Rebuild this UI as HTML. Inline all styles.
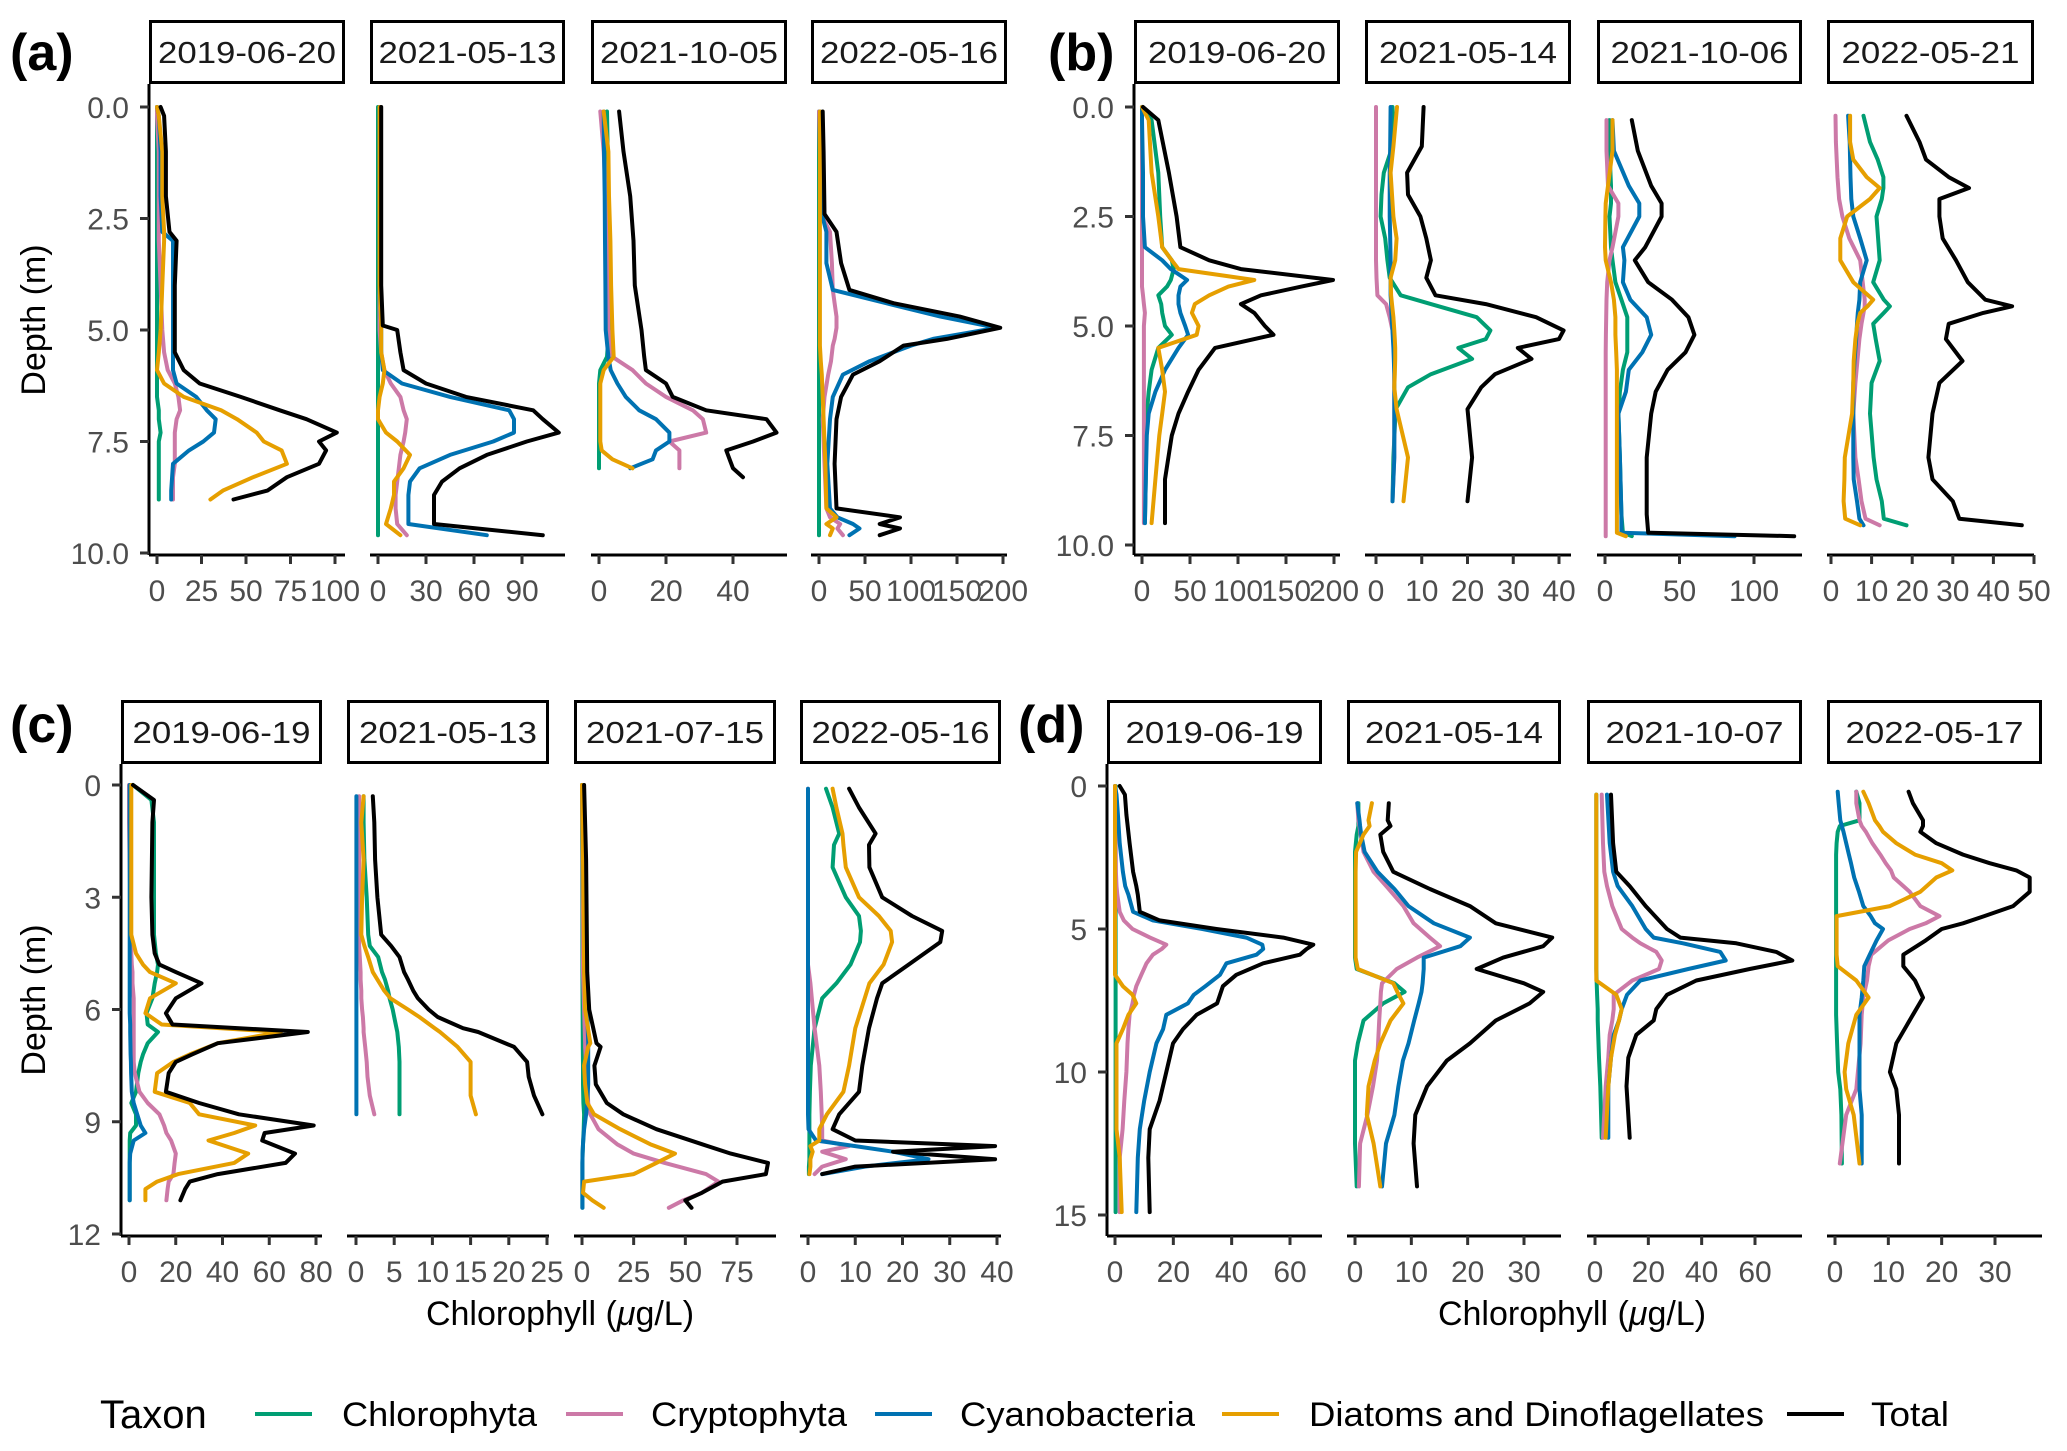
<!DOCTYPE html>
<html><head><meta charset="utf-8"><style>
html,body{margin:0;padding:0;background:#fff;}
svg{display:block;font-family:"Liberation Sans",sans-serif;}
</style></head><body>
<svg id="chart" width="2067" height="1451" viewBox="0 0 2067 1451"></svg>
<script>
// ---------- DATA ----------
const a1Depth=[0,0.2,1,2,2.8,3,4,5,5.5,5.9,6.2,6.5,6.8,7.0,7.3,7.5,7.7,8.0,8.3,8.6,8.8];
const a1Chloro=[0,0,0,0,0,0,0,0,0,0,0,0,1,1,2,1,1,1,1,1,1];
const a1Crypto=[0,0,1,1,1,1,2,3,4,6,10,12,13,11,10,10,10,10,9,9,9];
const a1Cyano=[0,1,2,2,3,9,9,9,9,9,11,22,28,33,32,26,18,9,8.5,8,8];
const a1Diatom=[0,1,3,3,4,4,3,2,1,0,4,15,36,45,56,60,70,73,54,37,30];
const a1Total=[2,4,5,5,7,11,10,10,10,15,24,47,69,84,101,91,95,91,73,62,43];

const a2Depth=[0,1,2,3,4,4.9,5.0,5.5,5.9,6.2,6.5,6.8,7.0,7.3,7.5,7.8,8.1,8.4,8.7,9.0,9.35,9.6];
const a2Chloro=[0,0,0,0,0,0,0,0,0,0,0,0,0,0,0,0,0,0,0,0,0,0];
const a2Crypto=[1,1,1,1,1,1,1,2,4,8,14,16,18,17,16,14,13,12,11,11,12,18];
const a2Cyano=[1,1,1,1,1,2,2,2,3,15,45,82,85,85,72,45,26,20,19,19,19,68];
const a2Diatom=[1,1,1,1,1,2,2,2,4,3,1,0,0,5,12,20,16,10,10,8,5,14];
const a2Total=[2,2,2,2,2,3,12,14,16,30,55,97,103,113,93,68,51,40,35,35,35,103];

const a3Depth=[0.1,1,2,3,4,5,5.6,5.9,6.2,6.5,6.8,7.0,7.3,7.5,7.7,7.9,8.1,8.3];
const a3Chloro=[2.4,2.6,2.8,3.2,3.2,3,2.4,0.4,0,0,0,0,0,0,0,0,0,null];
const a3Crypto=[0.4,1.4,2,2.4,2.6,2.8,4,10,14,20,28,31,32,21,24,24,24,null];
const a3Cyano=[1.4,1.5,1.7,1.8,1.9,2,2.8,3.5,5.5,8,12,17,21,21,17,16,9.3,null];
const a3Diatom=[1.4,2.8,3,3.4,3.6,4,4.4,1.4,0.4,0.4,0.4,0.4,0.4,0.4,0.8,4,10,null];
const a3Total=[6,7.3,9.3,10.3,10.7,12.7,13.5,14,20,22,32,50,53,46,38,39,40,43];

const a4Depth=[0.1,1,2.4,2.8,3.5,4.1,4.4,4.7,4.95,5.2,5.35,5.7,6.0,6.5,7,8,9.0,9.2,9.35,9.45,9.6];
const a4Chloro=[0,0,0,0,0,0,0,0,0,0,0,0,0,0,0,0,0,0,0,0,0];
const a4Crypto=[0,1,2,12,14,15,17,19,19,17,15,13,10,6,4,6,8,12,23,20,26];
const a4Cyano=[1,1,3,8,8,15,73,132,193,124,100,55,26,15,12,9,12,20,37,44,33];
const a4Diatom=[1,1,1,1,1,1,1,1,1,1,1,2,3,4,5,7,8,19,8,15,12];
const a4Total=[4,5,6,19,24,33,81,153,197,139,92,66,37,24,19,17,19,88,66,88,66];

const b1Depth=[0,0.3,1.5,2.5,3.2,3.5,3.7,3.95,4.1,4.3,4.5,4.7,5.0,5.2,5.5,6.0,6.5,7.0,7.5,8.5,9.5];
const b1Chloro=[0,10,17,19,21,31,33,30,26,17,20,21,24,31,17,10,7,5,4,4,3];
const b1Crypto=[0,0,0,0,0,0,0,0,0,1,2,3,2,2,2,2,2,2,2,2,2];
const b1Cyano=[0,0,1,1,3,21,30,47,40,38,38,40,45,48,38,24,14,7,5,4,3];
const b1Diatom=[0,7,10,17,21,31,38,117,90,70,55,52,59,57,17,21,24,21,18,14,10];
const b1Total=[1,17,28,36,40,70,103,199,166,124,103,117,128,137,76,59,48,38,31,24,24];

const b2Depth=[0,0.9,1.5,2,2.5,3,3.5,3.9,4.3,4.5,4.8,5.1,5.3,5.5,5.75,6.1,6.4,6.9,8,9];
const b2Chloro=[3.6,3.6,1.7,1.2,1,2,2.5,3,5.4,12,22,25,24,18,21,12,7,4.3,3.8,3.6];
const b2Crypto=[0,0,0,0,0,0,0,0.1,0.3,2.2,3,3.6,3.8,3.9,4,4,4,4,4,3.6];
const b2Cyano=[3.2,3.1,3,3,3,3.1,3.2,3.2,3.2,3.3,3.4,3.6,3.7,3.8,3.9,4,4,4,4,3.6];
const b2Diatom=[4.6,3.8,3.2,3.5,3.8,4.5,4.2,3.2,3.3,3.5,3.8,4,4.1,4.2,4.2,4.1,4,4.5,7,6];
const b2Total=[10.4,10,6.8,7,9.7,11,12,11,13,24,35,41,40,31,34,26,23,20,21,20];

const b3Depth=[0.3,1,1.8,2.2,2.5,3.2,3.5,4.0,4.4,4.8,5.2,5.6,6.0,6.5,7.0,8,9.3,9.72,9.8];
const b3Chloro=[3,3,4,4,3,4,5,7,11,15,15,15,12,10,9,10,11,12,18];
const b3Crypto=[1,1,2,9,9,5,3,1.5,1,0.8,0.6,0.5,0.5,0.5,0.5,0.5,0.5,0.5,0.5];
const b3Cyano=[5,6,16,23,23,12,13,12,17,28,31,25,16,14,9,10,11,11,87];
const b3Diatom=[5,5,2,0.5,0.3,0,0.5,4,6,7,7,7.5,8,8,8,8,8,8,14];
const b3Total=[18,22,31,38,38,27,20,29,45,56,60,54,42,34,31,28,28,29,127];

const b4Depth=[0.2,0.8,1.2,1.6,1.85,2.1,2.5,3,3.5,4.0,4.4,4.55,4.7,4.95,5.3,5.8,6.3,7.0,8,8.5,9,9.4,9.55];
const b4Chloro=[8,9.6,11.5,12.9,12.9,12.5,11.2,11.6,12,10.4,13,14.5,13,10.4,11,12,10,9.6,10.5,11.2,12.5,13,18.6];
const b4Crypto=[1.1,1.2,1.4,1.6,1.8,2,2.8,4.5,7.2,7.8,8.3,8.3,8,7.5,7,6.5,6,5.5,6,6.8,7.5,8.5,12];
const b4Cyano=[4.2,4.6,4.7,4.8,4.9,5,5.5,7.2,8.8,7.2,7,6.8,6.6,6.4,6.2,5.8,5.5,5.5,5.5,5.6,6.4,7,8];
const b4Diatom=[4.7,4.7,5.5,8.8,12,9.6,4,2.3,2.3,5.5,10.4,9,7.2,6.5,6,5.6,5.5,5.2,3.4,3.3,3.1,3.5,7.2];
const b4Total=[18.6,21.8,23.4,29,34,26.7,26.7,27.5,30.8,33.7,38,44.6,37.5,29,28.3,32.4,26.7,25,24,25,30,31.6,47];

const c1Depth=[0,0.4,1,3,4,4.5,4.8,5.0,5.3,5.7,6.1,6.4,6.6,6.9,7.2,7.4,7.7,8.2,8.5,8.8,9.1,9.3,9.5,9.85,10.1,10.4,10.6,10.8,11.1];
const c1Chloro=[1.7,9.6,10.7,10.7,10.7,11.5,12.4,12,11,10,7.5,8,12.4,8,6,5,4,3,1,3,3,0.5,0.3,0.3,0.3,0.3,0.3,0.3,0.3];
const c1Crypto=[0,0,0,0.5,0.8,1,1.2,1.5,1.5,2,2,2,2,2,2,2,2.5,4.5,8,13,15,16,18,20,19.5,19,17,16.5,16];
const c1Cyano=[0.3,0.3,0.3,0.3,0.3,0.3,0.3,0.3,0.3,0.3,0.3,0.5,0.5,0.6,0.7,0.8,0.9,1.2,2,3.5,5,7,2,0.5,0.3,0.3,0.3,0.3,0.3];
const c1Diatom=[1,1,1,1,1,3,6,9,20,9,7,14,65,38,26,19,12,11,26,30,54,45,34,51,45,21,12,7,7];
const c1Total=[1.7,10.7,10,9.6,10,11,13,20,31,20,15.8,18.6,76.5,38,27,20,17,15.8,30,47,79,58,57,71,67,38,26,24,22];

const c2Depth=[0.3,1,2,3,4,4.3,4.6,5.0,5.2,5.5,5.7,6.0,6.2,6.5,6.6,7.0,7.4,7.8,8.3,8.8];
const c2Chloro=[1,1,1.1,1.4,1.6,1.8,2.9,3.4,3.8,4.2,4.4,4.8,5,5.3,5.4,5.6,5.7,5.7,5.7,5.7];
const c2Crypto=[0.4,0.4,0.4,0.4,0.4,0.4,0.5,0.6,0.6,0.7,0.7,0.8,0.9,1,1,1.2,1.4,1.5,1.8,2.4];
const c2Cyano=[0.05,0.05,0.05,0.05,0.05,0.05,0.05,0.05,0.05,0.05,0.05,0.05,0.05,0.05,0.05,0.05,0.05,0.05,0.05,0.05];
const c2Diatom=[1,0.7,1,0.8,0.7,1.1,1.6,2.2,2.8,3.7,4.5,6.8,8.3,10.3,11,13.3,15,15,15,15.7];
const c2Total=[2.2,2.4,2.5,2.8,3.3,4.6,5.7,6.3,6.8,7.5,8.1,9.5,10.7,14,16,20.7,22.4,22.6,23.3,24.4];

const c3Depth=[0,2,5,6,6.9,7.0,7.5,8.0,8.5,8.8,9.2,9.6,9.85,10.1,10.4,10.6,10.9,11.1,11.3];
const c3Chloro=[0,0.1,0.2,0.3,0.4,0.4,0.5,0.5,0.7,1,0.8,0.5,0.3,0.2,0.2,0.2,0.2,0.2,0.2];
const c3Crypto=[0,0.3,0.5,1,1.5,1.5,2,2.6,3,4,8,17,25,40,60,66,58,49,42];
const c3Cyano=[0,0.5,1,2.5,3,3,3,3,2.5,2,1,0.5,0.3,0.2,0.2,0.2,0.2,0.2,0.2];
const c3Diatom=[0,0.5,1,1.5,4,3,1,1.5,2.6,5.8,18.5,33,45,36,25,1,0.5,5,10.5];
const c3Total=[1,2,2.5,3.5,7,9,6,6.7,12,20,36,58,72,90,89,68,58,50,53];

const c4Depth=[0.1,0.6,1.3,1.6,2.2,3.0,3.5,3.9,4.2,4.8,5.3,5.7,6.5,7.5,8.2,8.8,9.2,9.5,9.65,9.8,10.0,10.2,10.4];
const c4Chloro=[3.8,5.2,6.6,5.5,5.2,8,10.8,11.2,11,9,6,3,1.4,0.6,0.4,0.3,0.3,0.3,0.3,0.3,0.3,0.2,0.2];
const c4Crypto=[0,0,0,0,0,0,0,0,0,0,0.5,0.8,1.4,2.4,2.7,2.9,3,3,8.7,3,8,3,1.4];
const c4Cyano=[0,0,0,0,0,0,0,0,0,0,0,0,0,0,0,0,0.1,1.7,10,18,25.5,12,3];
const c4Diatom=[5.2,6,7.3,7.5,8,10.8,15,17.5,17.8,16,13,12,10,8.7,7.5,4,2.4,2.4,0.5,1,0.5,0.5,0.3];
const c4Total=[8.7,10.8,14.3,12.9,13,15.7,22,28.4,28,21.3,15.7,14.6,12.9,11.5,10.8,6.6,5.2,10,39.6,18,39.6,10,3];

const d1Depth=[0,0.3,1,2,3,3.5,3.8,4.4,4.7,5.0,5.3,5.55,5.7,5.9,6.2,6.6,7.0,7.3,7.6,8.0,8.5,9,10,11,12,13,14.9];
const d1Chloro=[0.2,0.2,0.2,0.2,0.2,0.2,0.2,0.2,0.2,0.2,0.2,0.2,0.2,0.2,0.2,0.2,0.2,0.2,0.2,0.2,0.2,0.2,0.2,0.2,0.2,0.2,0.2];
const d1Crypto=[0,0,0,0.2,0.3,0.5,0.8,1.6,3,6,12,17.6,16,13,10.8,9,7.3,6.5,6,5,4.6,4.3,3.9,3.2,2.6,1.6,1.6];
const d1Cyano=[0,0.5,1,1.6,2.7,3.5,4.6,6.2,13,30,45,50.5,50.8,48.5,38.2,36,31,27,25,17.6,16.5,14.2,11.9,10,8.5,7.8,7.3];
const d1Diatom=[0,0,0,0,0,0,0,0,0,0,0,0,0,0,0,0,2.7,6,7.3,4.6,2.7,0.5,0.5,0.5,0.5,1.6,2.3];
const d1Total=[1.6,3.4,3.9,5,6.2,7.3,7.8,8.5,15.3,34.8,57.7,68,65.7,63.4,50.8,41.6,37,36,35,28,23.3,19.9,17.6,15.3,11.9,11.4,11.9];

const d2Depth=[0.6,1.2,1.4,1.7,2.3,3.0,3.6,4.2,4.8,5.3,5.6,6.0,6.4,6.9,7.2,7.6,8.2,9.0,9.6,10.5,11.5,12.5,14];
const d2Chloro=[0.6,0.6,0.6,0.3,0,0,0,0,0,0,0,0,0.3,7,8.8,5,1.5,0.5,0,0,0,0,0.3];
const d2Crypto=[0.4,0.6,0.8,1,1.5,3.3,6,8.6,10.4,13.3,15.1,11,7.4,4.8,4.6,4.5,4.3,4.1,3.9,3.2,2.2,0.9,0.7];
const d2Cyano=[0.4,0.8,0.9,1.1,1.7,4,7,9.5,14,20.4,18.7,12.2,12.2,12,11.8,11.3,10.5,9.5,8.5,7.7,7,5.5,4.8];
const d2Diatom=[3,2.4,2.6,1.5,0.2,0.1,0.1,0.1,0.1,0.1,0.1,0.1,0.5,6.8,7.5,8.6,6.3,4.5,3.5,2.4,2.1,3.3,4.5];
const d2Total=[6,5.8,6.3,4.5,5,6.8,13.3,20.4,25,35,33.4,26.3,21.6,30,33.4,31,25,20.4,16.3,12.8,10.7,10.4,11];

const d3Depth=[0.3,2,3,3.5,4.2,5,5.3,5.5,5.8,6.1,6.4,6.8,7.3,7.8,8.2,8.7,9.5,10.5,12.3];
const d3Chloro=[0.5,0.5,0.5,0.5,0.5,0.5,0.5,0.5,0.5,0.5,0.5,0.6,0.8,1,1,1.2,1.5,2,2.5];
const d3Crypto=[2.5,3,3.5,4.5,6.5,10,14,17,23,25,24,14,7,7,6.5,5.5,5,4,3];
const d3Cyano=[4.5,5.5,6.8,8.5,14,19,22,33,47,49,35,17,12,10,9,7,6,5,5];
const d3Diatom=[0.5,0.5,0.5,0.5,0.5,0.5,0.5,0.5,0.5,0.5,0.5,0.5,8,10,9,7.5,6,5,4];
const d3Total=[6,6.8,8,13,19,27,32,53,68,74,58,38,27,23,22,15.5,12.5,11.8,13];

const d4Depth=[0.2,0.6,1.2,1.4,1.6,2.0,2.4,2.7,2.95,3.2,3.7,4.2,4.55,4.8,5.0,5.4,5.9,6.3,6.8,7.4,8.0,9,10,10.6,11.5,13.2];
const d4Chloro=[4,4.6,4.6,0.9,0.5,0.3,0.2,0.2,0.2,0.2,0.2,0.2,0.2,0.2,0.2,0.2,0.2,0.2,0.2,0.2,0.2,0.4,0.6,1,1.2,1.3];
const d4Crypto=[4,4,4.6,5,5.8,7,8.5,9.5,10.5,11,14,16,19.6,17,14,10,6.8,6.3,6,5.3,5,4.8,4.3,4,2.1,0.9];
const d4Cyano=[0.5,0.7,1,1.3,1.6,2.1,2.6,3,3.3,3.6,4.5,5.3,6.7,7.5,9,7.8,6.5,5.5,5.3,5,4.6,4.6,4.6,4.6,5,5];
const d4Diatom=[5.3,6.3,7.5,8.3,9,11.5,15,20,22,19,16,10.3,0.3,0.3,0.3,0.3,0.3,0.5,4,6.3,4,2.5,1.8,2.1,3.5,4.6];
const d4Total=[13.8,14.6,16.5,16.5,16,19,24,29,34,36.5,36.5,33.4,28,24,20,17,12.8,12.8,15,16.5,14.6,11.5,10.3,11.5,12,12];

const stripDatesA=['2019-06-20','2021-05-13','2021-10-05','2022-05-16'];
const stripDatesB=['2019-06-20','2021-05-14','2021-10-06','2022-05-21'];
const stripDatesC=['2019-06-19','2021-05-13','2021-07-15','2022-05-16'];
const stripDatesD=['2019-06-19','2021-05-14','2021-10-07','2022-05-17'];
const yTicksAB=[0,2.5,5,7.5,10];
const yLabelsAB=['0.0','2.5','5.0','7.5','10.0'];
const yTicksC=[0,3,6,9,12];
const yTicksD=[0,5,10,15];
const xTicksA=[[0,25,50,75,100],[0,30,60,90],[0,20,40],[0,50,100,150,200]];
const xTicksB=[[0,50,100,150,200],[0,10,20,30,40],[0,50,100],[0,10,20,30,40,50]];
const xTicksC=[[0,20,40,60,80],[0,5,10,15,20,25],[0,25,50,75],[0,10,20,30,40]];
const xTicksD=[[0,20,40,60],[0,10,20,30],[0,20,40,60],[0,10,20,30]];
const taxa=['Chlorophyta','Cryptophyta','Cyanobacteria','Diatoms and Dinoflagellates','Total'];
const taxaColors=['#009E73','#CC79A7','#0072B2','#E69F00','#000000'];

// ---------- LAYOUT ----------
const groups=[
 {key:'a',tag:'(a)',tagX:10,tagY:70,axisX:149,stripTop:20,stripBot:84,plotBot:555,d0px:107,dRef:10,dRefPx:553,
  yTicks:yTicksAB,yLabels:yLabelsAB,titleY:320,dates:stripDatesA,xTicks:xTicksA,
  panels:[[149,345,157,335],[370,565,378,522],[591,787,599,733],[811,1007,819,1003]],
  data:[[a1Depth,a1Chloro,a1Crypto,a1Cyano,a1Diatom,a1Total],[a2Depth,a2Chloro,a2Crypto,a2Cyano,a2Diatom,a2Total],[a3Depth,a3Chloro,a3Crypto,a3Cyano,a3Diatom,a3Total],[a4Depth,a4Chloro,a4Crypto,a4Cyano,a4Diatom,a4Total]]},
 {key:'b',tag:'(b)',tagX:1048,tagY:70,axisX:1134,stripTop:20,stripBot:84,plotBot:555,d0px:107,dRef:10,dRefPx:545,
  yTicks:yTicksAB,yLabels:yLabelsAB,titleY:null,dates:stripDatesB,xTicks:xTicksB,
  panels:[[1134,1340,1142,1334],[1365,1571,1376,1559],[1597,1802,1605,1754],[1827,2034,1831,2034]],
  data:[[b1Depth,b1Chloro,b1Crypto,b1Cyano,b1Diatom,b1Total],[b2Depth,b2Chloro,b2Crypto,b2Cyano,b2Diatom,b2Total],[b3Depth,b3Chloro,b3Crypto,b3Cyano,b3Diatom,b3Total],[b4Depth,b4Chloro,b4Crypto,b4Cyano,b4Diatom,b4Total]]},
 {key:'c',tag:'(c)',tagX:10,tagY:742,axisX:121,stripTop:700,stripBot:764,plotBot:1236,d0px:785,dRef:12,dRefPx:1234,
  yTicks:yTicksC,yLabels:yTicksC.map(String),titleY:1000,dates:stripDatesC,xTicks:xTicksC,xTitleX:560,
  panels:[[121,322,129,316],[347,549,356,547],[574,776,582,737],[800,1001,808,997]],
  data:[[c1Depth,c1Chloro,c1Crypto,c1Cyano,c1Diatom,c1Total],[c2Depth,c2Chloro,c2Crypto,c2Cyano,c2Diatom,c2Total],[c3Depth,c3Chloro,c3Crypto,c3Cyano,c3Diatom,c3Total],[c4Depth,c4Chloro,c4Crypto,c4Cyano,c4Diatom,c4Total]]},
 {key:'d',tag:'(d)',tagX:1018,tagY:742,axisX:1107,stripTop:700,stripBot:764,plotBot:1236,d0px:786,dRef:15,dRefPx:1215,
  yTicks:yTicksD,yLabels:yTicksD.map(String),titleY:null,dates:stripDatesD,xTicks:xTicksD,xTitleX:1572,
  panels:[[1107,1322,1115,1290],[1347,1561,1355,1524],[1587,1802,1595,1755],[1827,2042,1835,1995]],
  data:[[d1Depth,d1Chloro,d1Crypto,d1Cyano,d1Diatom,d1Total],[d2Depth,d2Chloro,d2Crypto,d2Cyano,d2Diatom,d2Total],[d3Depth,d3Chloro,d3Crypto,d3Cyano,d3Diatom,d3Total],[d4Depth,d4Chloro,d4Crypto,d4Cyano,d4Diatom,d4Total]]}
];

const NS='http://www.w3.org/2000/svg';
const svg=document.getElementById('chart');
function mk(tag,attrs,parent,text){
  const e=document.createElementNS(NS,tag);
  for(const k in attrs)e.setAttribute(k,attrs[k]);
  if(text!==undefined)e.textContent=text;
  (parent||svg).appendChild(e);return e;
}

groups.forEach(g=>{
  const gEl=mk('g',{});
  
  
  const yScale=d=>g.d0px+(g.dRefPx-g.d0px)*d/g.dRef;
  const tag=mk('text',{x:g.tagX,y:g.tagY,'font-size':52,'font-weight':'bold',fill:'#000'},gEl,g.tag);
  
  
  const ya=mk('line',{x1:g.axisX,x2:g.axisX,y1:g.stripBot,y2:g.plotBot,stroke:'#000','stroke-width':3},gEl);
  
  
  g.yTicks.forEach((t,i)=>{
    const y=yScale(t);
    const tk=mk('line',{x1:g.axisX-9,x2:g.axisX,y1:y,y2:y,stroke:'#333','stroke-width':3},gEl);
    
    
    const lb=mk('text',{x:g.axisX-20,y:y+11,'font-size':30,fill:'#4d4d4d','text-anchor':'end'},gEl,g.yLabels[i]);
    
    
  });
  if(g.titleY){
    const yt=mk('text',{x:0,y:0,'font-size':34,fill:'#000','text-anchor':'middle',transform:`translate(45,${g.titleY}) rotate(-90)`},gEl,'Depth (m)');
    
    
  }
  if(g.xTitleX){
    const xt=mk('text',{x:g.xTitleX,y:1325,'font-size':34,fill:'#000','text-anchor':'middle'},gEl);
    
    
    mk('tspan',{},xt,'Chlorophyll (');
    mk('tspan',{'font-style':'italic'},xt,'μ');
    mk('tspan',{},xt,'g/L)');
  }
  g.panels.forEach((p,pi)=>{
    const [L,R,z0,zRef]=p;
    const ticks=g.xTicks[pi];
    const tMax=ticks[ticks.length-1];
    const xScale=v=>z0+(zRef-z0)*v/tMax;
    const pg=mk('g',{},gEl);
    
    
    const sr=mk('rect',{x:L+1.5,y:g.stripTop+1.5,width:R-L-3,height:g.stripBot-g.stripTop-3,fill:'#fff',stroke:'#000','stroke-width':3},pg);
    
    
    const st=mk('text',{x:(L+R)/2,y:(g.stripTop+g.stripBot)/2+11,'font-size':31,fill:'#1a1a1a','text-anchor':'middle',textLength:178,lengthAdjust:'spacingAndGlyphs'},pg,g.dates[pi]);
    
    
    const xa=mk('line',{x1:L,x2:R,y1:g.plotBot,y2:g.plotBot,stroke:'#000','stroke-width':3},pg);
    
    
    ticks.forEach(t=>{
      const x=xScale(t);
      const tk=mk('line',{x1:x,x2:x,y1:g.plotBot,y2:g.plotBot+9,stroke:'#333','stroke-width':3},pg);
      
      
      const lb=mk('text',{x:x,y:g.plotBot+46,'font-size':30,fill:'#4d4d4d','text-anchor':'middle'},pg,String(t));
      
      
    });
    const dep=g.data[pi][0];
    for(let s=0;s<5;s++){
      const vals=g.data[pi][s+1];
      const pts=[];
      vals.forEach((v,i)=>{if(v!==null&&v!==undefined)pts.push(xScale(v).toFixed(1)+','+yScale(dep[i]).toFixed(1));});
      const pl=mk('polyline',{points:pts.join(' '),fill:'none',stroke:taxaColors[s],'stroke-width':4,'stroke-linejoin':'round','stroke-linecap':'round'},pg);
      
      
    }
  });
});

const leg=mk('g',{});


const lt=mk('text',{x:100,y:1428,'font-size':40,fill:'#000'},leg,'Taxon');


const legLineX=[255,566,875,1222,1787];
const legTextX=[342,651,960,1309,1871];
const legTextW=[195,196,235,455,78];
taxa.forEach((t,i)=>{
  const ln=mk('line',{x1:legLineX[i],x2:legLineX[i]+57,y1:1414,y2:1414,stroke:taxaColors[i],'stroke-width':4},leg);
  
  
  const tx=mk('text',{x:legTextX[i],y:1426,'font-size':34,fill:'#000',textLength:legTextW[i],lengthAdjust:'spacingAndGlyphs'},leg,t);
  
  
});
</script>
</body></html>
